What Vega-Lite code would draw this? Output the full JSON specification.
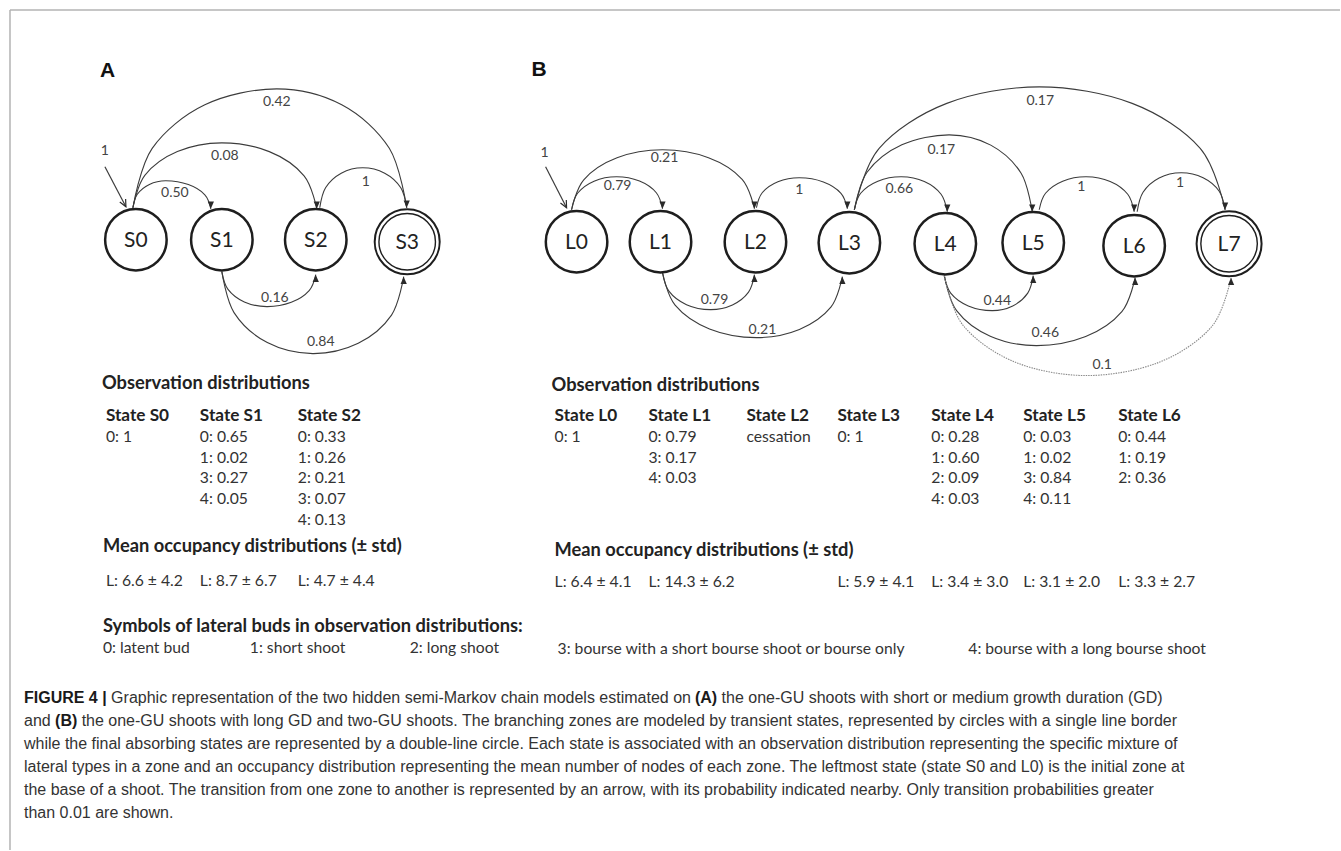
{
"$schema":"https://vega.github.io/schema/vega-lite/v6.json",
"width":1341,"height":851,"padding":0,
"autosize":{"type":"fit","contains":"padding"},
"background":"white",
"config":{"view":{"stroke":null}},
"datasets":{
"frame":[{"x":10,"y":10,"x2":1341,"y2":10},{"x":10,"y":10,"x2":10,"y2":851}],
"initLines":[{"x":105,"y":167,"x2":126,"y2":207},{"x":546,"y":167,"x2":567,"y2":208}],
"arcs":[
{"id":"A1","i":0,"x":133,"y":208},{"id":"A1","i":1,"x":152.3,"y":148.5},{"id":"A1","i":2,"x":205,"y":104.9},{"id":"A1","i":3,"x":277,"y":89},{"id":"A1","i":4,"x":342,"y":104.9},{"id":"A1","i":5,"x":389.6,"y":148.5},{"id":"A1","i":6,"x":407,"y":208},
{"id":"A2","i":0,"x":133,"y":208},{"id":"A2","i":1,"x":144.9,"y":175.5},{"id":"A2","i":2,"x":177.5,"y":151.7},{"id":"A2","i":3,"x":222,"y":143},{"id":"A2","i":4,"x":269.5,"y":151.8},{"id":"A2","i":5,"x":304.3,"y":176},{"id":"A2","i":6,"x":317,"y":209},
{"id":"A3","i":0,"x":133,"y":208},{"id":"A3","i":1,"x":137.4,"y":194.5},{"id":"A3","i":2,"x":149.5,"y":184.6},{"id":"A3","i":3,"x":166,"y":181},{"id":"A3","i":4,"x":188.5,"y":184.8},{"id":"A3","i":5,"x":205,"y":195},{"id":"A3","i":6,"x":211,"y":209},
{"id":"A4","i":0,"x":320,"y":208},{"id":"A4","i":1,"x":325.8,"y":188},{"id":"A4","i":2,"x":341.5,"y":173.4},{"id":"A4","i":3,"x":363,"y":168},{"id":"A4","i":4,"x":385,"y":173.4},{"id":"A4","i":5,"x":401.1,"y":188},{"id":"A4","i":6,"x":407,"y":208},
{"id":"A5","i":0,"x":222,"y":272},{"id":"A5","i":1,"x":228,"y":289.5},{"id":"A5","i":2,"x":244.5,"y":302.3},{"id":"A5","i":3,"x":267,"y":307},{"id":"A5","i":4,"x":291.5,"y":302.7},{"id":"A5","i":5,"x":309.4,"y":291},{"id":"A5","i":6,"x":316,"y":275},
{"id":"A6","i":0,"x":222,"y":272},{"id":"A6","i":1,"x":234.2,"y":313},{"id":"A6","i":2,"x":267.5,"y":343},{"id":"A6","i":3,"x":313,"y":354},{"id":"A6","i":4,"x":358.5,"y":343.7},{"id":"A6","i":5,"x":391.8,"y":315.5},{"id":"A6","i":6,"x":404,"y":277},
{"id":"B1","i":0,"x":572,"y":210},{"id":"B1","i":1,"x":578,"y":193.5},{"id":"B1","i":2,"x":594.5,"y":181.4},{"id":"B1","i":3,"x":617,"y":177},{"id":"B1","i":4,"x":640,"y":181.3},{"id":"B1","i":5,"x":656.8,"y":193},{"id":"B1","i":6,"x":663,"y":209},
{"id":"B2","i":0,"x":572,"y":210},{"id":"B2","i":1,"x":584.2,"y":180},{"id":"B2","i":2,"x":617.5,"y":158},{"id":"B2","i":3,"x":663,"y":150},{"id":"B2","i":4,"x":709,"y":157.9},{"id":"B2","i":5,"x":742.7,"y":179.5},{"id":"B2","i":6,"x":755,"y":209},
{"id":"B3","i":0,"x":757,"y":208},{"id":"B3","i":1,"x":762.8,"y":193},{"id":"B3","i":2,"x":778.5,"y":182},{"id":"B3","i":3,"x":800,"y":178},{"id":"B3","i":4,"x":824,"y":182.2},{"id":"B3","i":5,"x":841.6,"y":193.5},{"id":"B3","i":6,"x":848,"y":209},
{"id":"B4","i":0,"x":855,"y":210},{"id":"B4","i":1,"x":861.3,"y":193.5},{"id":"B4","i":2,"x":878.5,"y":181.4},{"id":"B4","i":3,"x":902,"y":177},{"id":"B4","i":4,"x":925,"y":181.7},{"id":"B4","i":5,"x":941.8,"y":194.5},{"id":"B4","i":6,"x":948,"y":212},
{"id":"B5","i":0,"x":855,"y":210},{"id":"B5","i":1,"x":867.7,"y":172.5},{"id":"B5","i":2,"x":902.5,"y":145},{"id":"B5","i":3,"x":950,"y":135},{"id":"B5","i":4,"x":991.5,"y":145.3},{"id":"B5","i":5,"x":1021.9,"y":173.5},{"id":"B5","i":6,"x":1033,"y":212},
{"id":"B6","i":0,"x":855,"y":210},{"id":"B6","i":1,"x":879.8,"y":148.5},{"id":"B6","i":2,"x":947.5,"y":103.5},{"id":"B6","i":3,"x":1040,"y":87},{"id":"B6","i":4,"x":1133,"y":103.5},{"id":"B6","i":5,"x":1201.1,"y":148.5},{"id":"B6","i":6,"x":1226,"y":210},
{"id":"B7","i":0,"x":1040,"y":210},{"id":"B7","i":1,"x":1046.3,"y":193.5},{"id":"B7","i":2,"x":1063.5,"y":181.4},{"id":"B7","i":3,"x":1087,"y":177},{"id":"B7","i":4,"x":1111,"y":181.7},{"id":"B7","i":5,"x":1128.6,"y":194.5},{"id":"B7","i":6,"x":1135,"y":212},
{"id":"B8","i":0,"x":1138,"y":212},{"id":"B8","i":1,"x":1143.9,"y":192.5},{"id":"B8","i":2,"x":1160,"y":178.2},{"id":"B8","i":3,"x":1182,"y":173},{"id":"B8","i":4,"x":1204,"y":178},{"id":"B8","i":5,"x":1220.1,"y":191.5},{"id":"B8","i":6,"x":1226,"y":210},
{"id":"B9","i":0,"x":663,"y":273},{"id":"B9","i":1,"x":669.4,"y":291.5},{"id":"B9","i":2,"x":687,"y":305},{"id":"B9","i":3,"x":711,"y":310},{"id":"B9","i":4,"x":733,"y":305.3},{"id":"B9","i":5,"x":749.1,"y":292.5},{"id":"B9","i":6,"x":755,"y":275},
{"id":"B10","i":0,"x":663,"y":273},{"id":"B10","i":1,"x":675.6,"y":305.5},{"id":"B10","i":2,"x":710,"y":329.3},{"id":"B10","i":3,"x":757,"y":338},{"id":"B10","i":4,"x":800,"y":329.8},{"id":"B10","i":5,"x":831.5,"y":307.5},{"id":"B10","i":6,"x":843,"y":277},
{"id":"B11","i":0,"x":945,"y":276},{"id":"B11","i":1,"x":951.4,"y":293.5},{"id":"B11","i":2,"x":969,"y":306.3},{"id":"B11","i":3,"x":993,"y":311},{"id":"B11","i":4,"x":1013.5,"y":306.3},{"id":"B11","i":5,"x":1028.5,"y":293.5},{"id":"B11","i":6,"x":1034,"y":276},
{"id":"B12","i":0,"x":945,"y":276},{"id":"B12","i":1,"x":957.3,"y":311},{"id":"B12","i":2,"x":991,"y":336.6},{"id":"B12","i":3,"x":1037,"y":346},{"id":"B12","i":4,"x":1086.5,"y":336.9},{"id":"B12","i":5,"x":1122.7,"y":312},{"id":"B12","i":6,"x":1136,"y":278}
],
"faint":[
{"id":"B13","i":0,"x":945,"y":276},{"id":"B13","i":1,"x":964,"y":326},{"id":"B13","i":2,"x":1016,"y":362.6},{"id":"B13","i":3,"x":1087,"y":376},{"id":"B13","i":4,"x":1159.5,"y":362.9},{"id":"B13","i":5,"x":1212.6,"y":327},{"id":"B13","i":6,"x":1232,"y":278}
],
"heads":[
{"x":407,"y":208,"dir":"down"},{"x":317,"y":209,"dir":"down"},{"x":211,"y":209,"dir":"down"},{"x":663,"y":209,"dir":"down"},{"x":755,"y":209,"dir":"down"},{"x":848,"y":209,"dir":"down"},{"x":948,"y":212,"dir":"down"},{"x":1033,"y":212,"dir":"down"},{"x":1226,"y":210,"dir":"down"},{"x":1135,"y":212,"dir":"down"},
{"x":316,"y":275,"dir":"up"},{"x":404,"y":277,"dir":"up"},{"x":755,"y":275,"dir":"up"},{"x":843,"y":277,"dir":"up"},{"x":1034,"y":276,"dir":"up"},{"x":1136,"y":278,"dir":"up"},{"x":1232,"y":278,"dir":"up"},
{"x":126,"y":207,"dir":"init"},{"x":567,"y":208,"dir":"init"}
],
"nodes":[
{"x":136,"y":240,"label":"S0","kind":"transient"},{"x":222,"y":240,"label":"S1","kind":"transient"},{"x":316,"y":240,"label":"S2","kind":"transient"},{"x":407.5,"y":242,"label":"S3","kind":"final"},
{"x":577,"y":242,"label":"L0","kind":"transient"},{"x":661,"y":242,"label":"L1","kind":"transient"},{"x":756,"y":242,"label":"L2","kind":"transient"},{"x":850,"y":243,"label":"L3","kind":"transient"},{"x":946,"y":244,"label":"L4","kind":"transient"},{"x":1034,"y":243,"label":"L5","kind":"transient"},{"x":1135,"y":246,"label":"L6","kind":"transient"},{"x":1230,"y":244,"label":"L7","kind":"final"}
],
"edgeLabels":[
{"x":277,"y":102,"t":"0.42"},{"x":225,"y":156,"t":"0.08"},{"x":175,"y":193,"t":"0.50"},{"x":366,"y":182,"t":"1"},{"x":275,"y":298,"t":"0.16"},{"x":321,"y":342,"t":"0.84"},{"x":105,"y":151,"t":"1"},
{"x":545,"y":153,"t":"1"},{"x":618,"y":186,"t":"0.79"},{"x":665,"y":158,"t":"0.21"},{"x":800,"y":190,"t":"1"},{"x":900,"y":189,"t":"0.66"},{"x":942,"y":150,"t":"0.17"},{"x":1041,"y":101,"t":"0.17"},{"x":1082,"y":187,"t":"1"},{"x":1181,"y":183,"t":"1"},{"x":715,"y":300,"t":"0.79"},{"x":763,"y":330,"t":"0.21"},{"x":998,"y":301,"t":"0.44"},{"x":1046,"y":333,"t":"0.46"},{"x":1103,"y":365,"t":"0.1"}
],
"letters":[{"x":100,"y":71,"t":"A"},{"x":532,"y":70,"t":"B"}],
"headings":[
{"x":102,"y":384,"t":"Observation distributions"},{"x":103,"y":548,"t":"Mean occupancy distributions (± std)"},{"x":103,"y":628,"t":"Symbols of lateral buds in observation distributions:"},
{"x":552,"y":386,"t":"Observation distributions"},{"x":555,"y":552,"t":"Mean occupancy distributions (± std)"}
],
"stateHeads":[
{"x":106,"y":416,"t":"State S0"},{"x":200,"y":416,"t":"State S1"},{"x":298,"y":416,"t":"State S2"},
{"x":555,"y":416,"t":"State L0"},{"x":649,"y":416,"t":"State L1"},{"x":747,"y":416,"t":"State L2"},{"x":838,"y":416,"t":"State L3"},{"x":932,"y":416,"t":"State L4"},{"x":1024,"y":416,"t":"State L5"},{"x":1119,"y":416,"t":"State L6"}
],
"values":[
{"x":106,"y":438,"t":"0: 1"},
{"x":200,"y":438,"t":"0: 0.65"},{"x":200,"y":459,"t":"1: 0.02"},{"x":200,"y":479,"t":"3: 0.27"},{"x":200,"y":500,"t":"4: 0.05"},
{"x":298,"y":438,"t":"0: 0.33"},{"x":298,"y":459,"t":"1: 0.26"},{"x":298,"y":479,"t":"2: 0.21"},{"x":298,"y":500,"t":"3: 0.07"},{"x":298,"y":521,"t":"4: 0.13"},
{"x":106,"y":582,"t":"L: 6.6 ± 4.2"},{"x":200,"y":582,"t":"L: 8.7 ± 6.7"},{"x":298,"y":582,"t":"L: 4.7 ± 4.4"},
{"x":555,"y":438,"t":"0: 1"},
{"x":649,"y":438,"t":"0: 0.79"},{"x":649,"y":459,"t":"3: 0.17"},{"x":649,"y":479,"t":"4: 0.03"},
{"x":747,"y":438,"t":"cessation"},
{"x":838,"y":438,"t":"0: 1"},
{"x":932,"y":438,"t":"0: 0.28"},{"x":932,"y":459,"t":"1: 0.60"},{"x":932,"y":479,"t":"2: 0.09"},{"x":932,"y":500,"t":"4: 0.03"},
{"x":1024,"y":438,"t":"0: 0.03"},{"x":1024,"y":459,"t":"1: 0.02"},{"x":1024,"y":479,"t":"3: 0.84"},{"x":1024,"y":500,"t":"4: 0.11"},
{"x":1119,"y":438,"t":"0: 0.44"},{"x":1119,"y":459,"t":"1: 0.19"},{"x":1119,"y":479,"t":"2: 0.36"},
{"x":555,"y":583,"t":"L: 6.4 ± 4.1"},{"x":649,"y":583,"t":"L: 14.3 ± 6.2"},{"x":838,"y":583,"t":"L: 5.9 ± 4.1"},{"x":932,"y":583,"t":"L: 3.4 ± 3.0"},{"x":1024,"y":583,"t":"L: 3.1 ± 2.0"},{"x":1119,"y":583,"t":"L: 3.3 ± 2.7"},
{"x":103,"y":649,"t":"0: latent bud"},{"x":250,"y":649,"t":"1: short shoot"},{"x":410,"y":649,"t":"2: long shoot"},{"x":558,"y":650,"t":"3: bourse with a short bourse shoot or bourse only"},{"x":969,"y":650,"t":"4: bourse with a long bourse shoot"}
],
"capBold":[
{"x":24,"y":699,"t":"FIGURE 4 |"},{"x":695.5,"y":699,"t":"(A)"},{"x":55.1,"y":722,"t":"(B)"}
],
"capReg":[
{"x":111.2,"y":699,"t":"Graphic representation of the two hidden semi-Markov chain models estimated on"},
{"x":722.1,"y":699,"t":"the one-GU shoots with short or medium growth duration (GD)"},
{"x":24,"y":722,"t":"and"},
{"x":81.7,"y":722,"t":"the one-GU shoots with long GD and two-GU shoots. The branching zones are modeled by transient states, represented by circles with a single line border"},
{"x":24,"y":745,"t":"while the final absorbing states are represented by a double-line circle. Each state is associated with an observation distribution representing the specific mixture of"},
{"x":24,"y":768,"t":"lateral types in a zone and an occupancy distribution representing the mean number of nodes of each zone. The leftmost state (state S0 and L0) is the initial zone at"},
{"x":24,"y":791,"t":"the base of a shoot. The transition from one zone to another is represented by an arrow, with its probability indicated nearby. Only transition probabilities greater"},
{"x":24,"y":814,"t":"than 0.01 are shown."}
]
},
"encoding":{
"x":{"field":"x","type":"quantitative","scale":{"domain":[0,1341],"nice":false,"zero":false},"axis":null},
"y":{"field":"y","type":"quantitative","scale":{"domain":[0,851],"nice":false,"zero":false,"reverse":true},"axis":null}
},
"layer":[
{"data":{"name":"frame"},"mark":{"type":"rule","color":"#b3b3b3","strokeWidth":1.5},"encoding":{"x2":{"field":"x2"},"y2":{"field":"y2"}}},
{"data":{"name":"arcs"},"mark":{"type":"line","interpolate":"cardinal","color":"#3c3c3c","strokeWidth":1.1},"encoding":{"detail":{"field":"id"},"order":{"field":"i","type":"quantitative"}}},
{"data":{"name":"faint"},"mark":{"type":"line","interpolate":"cardinal","color":"#8a8a8a","strokeWidth":1.1,"strokeDash":[1.5,1]},"encoding":{"detail":{"field":"id"},"order":{"field":"i","type":"quantitative"}}},
{"data":{"name":"initLines"},"mark":{"type":"rule","color":"#3c3c3c","strokeWidth":1.2},"encoding":{"x2":{"field":"x2"},"y2":{"field":"y2"}}},
{"data":{"name":"heads"},"transform":[{"filter":"datum.dir === 'down'"}],"mark":{"type":"point","shape":"M0,0L-0.8,-1.9L0.8,-1.9Z","filled":true,"color":"#2a2a2a","opacity":1,"size":60}},
{"data":{"name":"heads"},"transform":[{"filter":"datum.dir === 'up'"}],"mark":{"type":"point","shape":"M0,0L-0.8,1.9L0.8,1.9Z","filled":true,"color":"#2a2a2a","opacity":1,"size":60}},
{"data":{"name":"heads"},"transform":[{"filter":"datum.dir === 'init'"}],"mark":{"type":"point","shape":"M-0.074,-2L0,0L-1.58,-1.23","filled":false,"color":"#2a2a2a","strokeWidth":1.2,"opacity":1,"size":60}},
{"data":{"name":"nodes"},"transform":[{"filter":"datum.kind === 'transient'"}],"mark":{"type":"point","shape":"circle","filled":false,"color":"#1e1e1e","strokeWidth":2.5,"opacity":1,"size":3782}},
{"data":{"name":"nodes"},"transform":[{"filter":"datum.kind === 'final'"}],"mark":{"type":"point","shape":"circle","filled":false,"color":"#1e1e1e","strokeWidth":2,"opacity":1,"size":4225}},
{"data":{"name":"nodes"},"transform":[{"filter":"datum.kind === 'final'"}],"mark":{"type":"point","shape":"circle","filled":false,"color":"#1e1e1e","strokeWidth":1.4,"opacity":1,"size":3192}},
{"data":{"name":"nodes"},"mark":{"type":"text","font":"Lato","fontSize":21,"color":"#222222","align":"center","baseline":"middle","dy":1},"encoding":{"text":{"field":"label"}}},
{"data":{"name":"edgeLabels"},"mark":{"type":"text","font":"Lato","fontSize":14,"color":"#444444","align":"center","baseline":"middle"},"encoding":{"text":{"field":"t"}}},
{"data":{"name":"letters"},"mark":{"type":"text","font":"Liberation Sans","fontWeight":"bold","fontSize":21,"color":"#111111","align":"left","baseline":"middle"},"encoding":{"text":{"field":"t"}}},
{"data":{"name":"headings"},"mark":{"type":"text","font":"Lato","fontWeight":"bold","fontSize":18.3,"color":"#222222","align":"left","baseline":"middle"},"encoding":{"text":{"field":"t"}}},
{"data":{"name":"stateHeads"},"mark":{"type":"text","font":"Lato","fontWeight":"bold","fontSize":17.2,"color":"#222222","align":"left","baseline":"middle"},"encoding":{"text":{"field":"t"}}},
{"data":{"name":"values"},"mark":{"type":"text","font":"Lato","fontSize":15.7,"color":"#333333","align":"left","baseline":"middle"},"encoding":{"text":{"field":"t"}}},
{"data":{"name":"capBold"},"mark":{"type":"text","font":"Liberation Sans","fontWeight":"bold","fontSize":16,"color":"#1a1a1a","align":"left","baseline":"middle"},"encoding":{"text":{"field":"t"}}},
{"data":{"name":"capReg"},"mark":{"type":"text","font":"Liberation Sans","fontSize":16,"color":"#333333","align":"left","baseline":"middle"},"encoding":{"text":{"field":"t"}}}
]
}
